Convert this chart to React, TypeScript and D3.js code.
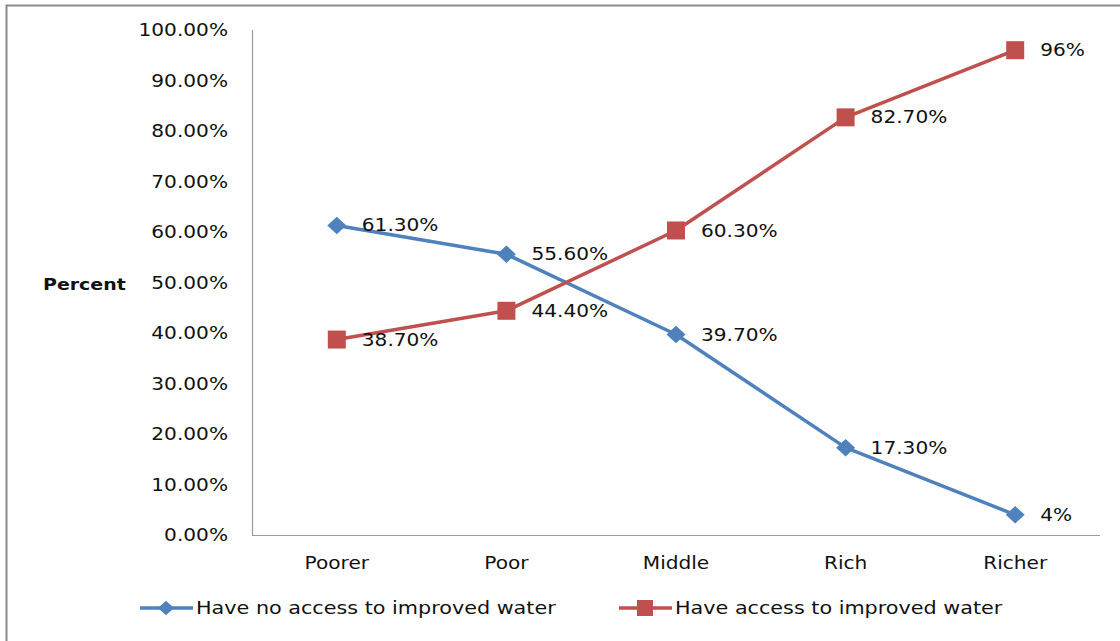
import React from "react";
import * as d3 from "d3";

const categories = ["Poorer", "Poor", "Middle", "Rich", "Richer"];
const noAccess = [61.3, 55.6, 39.7, 17.3, 4];
const noAccessLabels = ["61.30%", "55.60%", "39.70%", "17.30%", "4%"];
const withAccess = [38.7, 44.4, 60.3, 82.7, 96];
const withAccessLabels = ["38.70%", "44.40%", "60.30%", "82.70%", "96%"];
const yTicks = [0, 10, 20, 30, 40, 50, 60, 70, 80, 90, 100];
const seriesNames = ["Have no access to improved water", "Have access to improved water"];

const W = 1120;
const H = 641;
const plot = { left: 252, right: 1100, top: 30, bottom: 535 };
const BLUE = "#4F81BD";
const RED = "#C0504D";
const FONT = "DejaVu Sans, sans-serif";
const SX = 1.15;

function SText(props: {
  x: number;
  y: number;
  anchor?: string;
  size?: number;
  sx?: number;
  weight?: string | number;
  children: React.ReactNode;
}) {
  const { x, y, anchor = "start", size = 17.5, sx = SX, weight = "normal", children } = props;
  return (
    <text
      transform={`translate(${x},${y}) scale(${sx},1)`}
      textAnchor={anchor}
      dominantBaseline="central"
      fontFamily={FONT}
      fontSize={size}
      fontWeight={weight}
      fill="#111"
    >
      {children}
    </text>
  );
}

function Diamond({ cx, cy, r }: { cx: number; cy: number; r: number }) {
  return (
    <path
      d={`M${cx},${cy - r * 0.92}L${cx + r},${cy}L${cx},${cy + r * 0.92}L${cx - r},${cy}Z`}
      fill={BLUE}
    />
  );
}

function Square({ cx, cy, s }: { cx: number; cy: number; s: number }) {
  return <rect x={cx - s / 2} y={cy - s / 2} width={s} height={s} fill={RED} />;
}

export default function App() {
  const x = d3.scaleBand<string>().domain(categories).range([plot.left, plot.right]);
  const cx = (c: string) => (x(c) as number) + x.bandwidth() / 2;
  const y = d3.scaleLinear().domain([0, 100]).range([plot.bottom, plot.top]);

  const line = d3
    .line<number>()
    .x((_, i) => cx(categories[i]))
    .y((v) => y(v));

  return (
    <svg
      width={W}
      height={H}
      style={{ position: "absolute", left: 0, top: 0, background: "#fff" }}
    >
      {/* outer chart frame */}
      <path d={`M6.5,${H + 5}V5.5H${W + 5}`} fill="none" stroke="#8a8a8a" strokeWidth={2} />

      {/* axes */}
      <path
        d={`M${plot.left + 0.5},${plot.top}V${plot.bottom + 0.5}H${plot.right}`}
        fill="none"
        stroke="#9a9a9a"
        strokeWidth={1.2}
      />

      {yTicks.map((t) => (
        <SText key={t} x={228} y={y(t)} anchor="end">
          {t.toFixed(2)}%
        </SText>
      ))}

      {categories.map((c) => (
        <SText key={c} x={cx(c)} y={563} anchor="middle">
          {c}
        </SText>
      ))}

      <SText x={43} y={284} size={16.5} weight="bold">
        Percent
      </SText>

      {/* series lines */}
      <path d={line(noAccess) || ""} fill="none" stroke={BLUE} strokeWidth={3.5} strokeLinejoin="round" />
      <path d={line(withAccess) || ""} fill="none" stroke={RED} strokeWidth={3.5} strokeLinejoin="round" />

      {noAccess.map((v, i) => (
        <Diamond key={"d" + i} cx={cx(categories[i])} cy={y(v)} r={9.5} />
      ))}
      {withAccess.map((v, i) => (
        <Square key={"s" + i} cx={cx(categories[i])} cy={y(v)} s={18} />
      ))}

      {noAccess.map((v, i) => (
        <SText key={"ln" + i} x={cx(categories[i]) + 25} y={y(v)}>
          {noAccessLabels[i]}
        </SText>
      ))}
      {withAccess.map((v, i) => (
        <SText key={"lw" + i} x={cx(categories[i]) + 25} y={y(v)}>
          {withAccessLabels[i]}
        </SText>
      ))}

      {/* legend */}
      <line x1={140} x2={193} y1={608} y2={608} stroke={BLUE} strokeWidth={3.5} />
      <Diamond cx={166} cy={608} r={8} />
      <SText x={196} y={608} sx={1.185}>{seriesNames[0]}</SText>

      <line x1={619} x2={672} y1={608} y2={608} stroke={RED} strokeWidth={3.5} />
      <Square cx={645} cy={608} s={16} />
      <SText x={675} y={608} sx={1.185}>{seriesNames[1]}</SText>
    </svg>
  );
}
